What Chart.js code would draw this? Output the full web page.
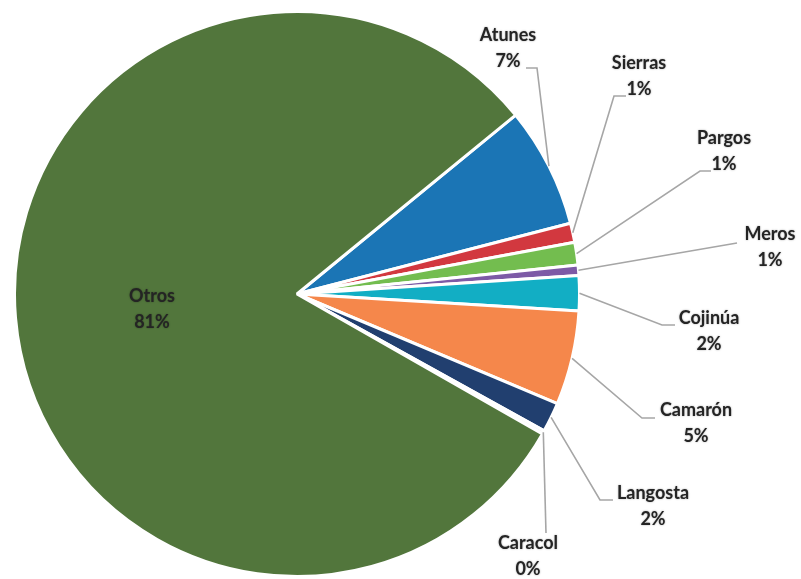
<!DOCTYPE html>
<html>
<head>
<meta charset="utf-8">
<script src="https://cdn.jsdelivr.net/npm/chart.js@4/dist/chart.umd.min.js"></script>
<style>
html,body{margin:0;padding:0;background:#fff;}
#wrap{width:801px;height:579px;position:relative;}
</style>
</head>
<body>
<div id="wrap"><canvas id="c"></canvas></div>
<script>
// ---- data ----
const categories = ["Atunes","Sierras","Pargos","Meros","Cojinúa","Camarón","Langosta","Caracol","Otros"];
const values = [6.9, 1.1, 1.3, 0.6, 2.0, 5.4, 1.7, 0.2, 81.0];
const colors = ["#1b75b5","#d2383f","#73bd4f","#7d5aa6","#12aec4","#f5874b","#213f6f","#f2f2f2","#52763c"];

// ---- label layout (text centre, leader path from slice edge) ----
const labelLayout = [
  {x:508, y:48,  pts:[[537,68],[526,68]]},
  {x:639, y:76,  pts:[[614,96],[626,96]]},
  {x:724, y:151, pts:[[700,171],[711,171]]},
  {x:770, y:247, pts:[[737,243]]},
  {x:709, y:331, pts:[[662,325],[675,325]]},
  {x:696, y:423, pts:[[642,418],[655,418]]},
  {x:653, y:506, pts:[[600,500],[613,500]]},
  {x:528, y:556, pts:[[546,533]]},
  {x:152, y:309, pts:null}
];

const labelPlugin = {
  id: 'pieLabels',
  afterDraw(chart) {
    const ctx = chart.ctx;
    const meta = chart.getDatasetMeta(0);
    const data = chart.data.datasets[0].data;
    const total = data.reduce((a,b)=>a+b,0);
    ctx.save();
    meta.data.forEach((el, i) => {
      const p = el.getProps(['x','y','startAngle','endAngle','outerRadius'], true);
      const lay = labelLayout[i];
      if (lay.pts) {
        const mid = (p.startAngle + p.endAngle) / 2;
        const sx = p.x + Math.cos(mid) * p.outerRadius;
        const sy = p.y + Math.sin(mid) * p.outerRadius;
        ctx.beginPath();
        ctx.moveTo(sx, sy);
        lay.pts.forEach(q => ctx.lineTo(q[0], q[1]));
        ctx.strokeStyle = '#a6a6a6';
        ctx.lineWidth = 1.6;
        ctx.stroke();
      }
      const pct = Math.round(data[i] / total * 100) + '%';
      ctx.font = 'bold 18px Lato';
      ctx.fillStyle = '#242424';
      ctx.textAlign = 'center';
      ctx.textBaseline = 'middle';
      ctx.shadowColor = 'rgba(0,0,0,0.35)';
      ctx.shadowBlur = 2;
      ctx.fillText(categories[i], lay.x, lay.y - 13);
      ctx.fillText(pct, lay.x, lay.y + 13);
      ctx.shadowColor = 'rgba(0,0,0,0)';
      ctx.shadowBlur = 0;
    });
    ctx.restore();
  }
};

function draw() {
  new Chart(document.getElementById('c'), {
    type: 'pie',
    data: {
      labels: categories,
      datasets: [{
        data: values,
        backgroundColor: colors,
        borderColor: '#ffffff',
        borderWidth: 3,
        hoverOffset: 0
      }]
    },
    options: {
      responsive: true,
      maintainAspectRatio: false,
      animation: false,
      rotation: 50.7,
      layout: { padding: { left: 13, top: 10, right: 220, bottom: 1 } },
      plugins: { legend: { display: false }, tooltip: { enabled: false } }
    },
    plugins: [labelPlugin]
  });
}
if (document.fonts && document.fonts.load) {
  document.fonts.load('bold 18px Lato').then(draw, draw);
} else { draw(); }
</script>
</body>
</html>
